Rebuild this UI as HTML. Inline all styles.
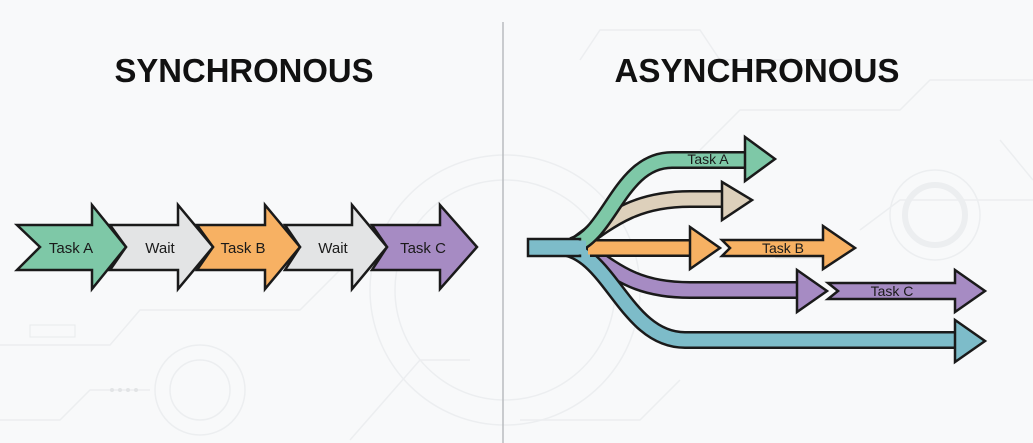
<!DOCTYPE html>
<html><head><meta charset="utf-8"><style>
html,body{margin:0;padding:0;background:#f8f9fa;}
svg{display:block}
text{font-family:"Liberation Sans",sans-serif;}
</style></head><body>
<svg width="1033" height="443" viewBox="0 0 1033 443" xmlns="http://www.w3.org/2000/svg">
<rect width="1033" height="443" fill="#f8f9fa"/>
<g fill="none" stroke="#eceef0" stroke-width="1.5">
<circle cx="505" cy="290" r="135"/>
<circle cx="505" cy="290" r="110"/>
<circle cx="935" cy="215" r="45"/>
<circle cx="935" cy="215" r="30" stroke-width="6"/>
<circle cx="200" cy="390" r="45"/>
<circle cx="200" cy="390" r="30"/>
<path d="M0 345 H110 L140 310 H300 L360 250"/>
<path d="M0 420 H60 L90 390 H150"/>
<path d="M350 440 L420 360 H470"/>
<path d="M580 60 L600 30 H700 L720 60 H820"/>
<path d="M700 150 L740 110 H900 L930 80 H1033"/>
<path d="M860 230 L900 200 H1033"/>
<path d="M1000 140 L1033 180"/>
<path d="M520 420 H640 L680 380"/>
</g>
<g fill="#eceef0"><rect x="775" y="245" width="50" height="14"/><rect x="30" y="325" width="45" height="12" fill="none" stroke="#e8eaec"/></g>
<g fill="#e2e4e6"><circle cx="112" cy="390" r="2"/><circle cx="120" cy="390" r="2"/><circle cx="128" cy="390" r="2"/><circle cx="136" cy="390" r="2"/></g>
<line x1="503" y1="22" x2="503" y2="443" stroke="#b9bcbf" stroke-width="1.5"/>
<text x="244" y="82" font-size="33" font-weight="bold" text-anchor="middle" fill="#111" textLength="259" lengthAdjust="spacingAndGlyphs">SYNCHRONOUS</text>
<text x="757" y="82" font-size="33" font-weight="bold" text-anchor="middle" fill="#111" textLength="285" lengthAdjust="spacingAndGlyphs">ASYNCHRONOUS</text>

<g stroke="#1a1a1a" stroke-width="2.5" stroke-linejoin="miter">
<polygon points="372,225 440,225 440,205 477,247 440,289 440,270 372,270 387,247" fill="#a68bc3"/>
<polygon points="285,225 352,225 352,205 387,247 352,289 352,270 285,270 300,247" fill="#e3e4e5"/>
<polygon points="197,225 265,225 265,205 300,247 265,289 265,270 197,270 213,247" fill="#f7b163"/>
<polygon points="110,225 178,225 178,205 213,247 178,289 178,270 110,270 126,247" fill="#e3e4e5"/>
<polygon points="17,225 92,225 92,205 126,247 92,289 92,270 17,270 40,247" fill="#7ec8a7"/>
</g>
<g font-size="15" fill="#1a1a1a" text-anchor="middle">
<text x="71" y="253">Task A</text>
<text x="160" y="253">Wait</text>
<text x="243" y="253">Task B</text>
<text x="333" y="253">Wait</text>
<text x="423" y="253">Task C</text>
</g>

<g fill="none" stroke-linecap="butt">
<path d="M585,250 C620,275 640,290 690,290 L800,290" stroke="#1a1a1a" stroke-width="18"/>
<path d="M585,250 C620,275 640,290 690,290 L801,290" stroke="#a68bc3" stroke-width="13"/>
<path d="M560,247 C610,250 625,340 685,340 L958,340" stroke="#1a1a1a" stroke-width="18"/>
<path d="M560,247 C610,250 625,340 685,340 L959,340" stroke="#7dbcc9" stroke-width="13"/>
<path d="M590,248 L692,248" stroke="#1a1a1a" stroke-width="18"/>
<path d="M588,248 L693,248" stroke="#f7b163" stroke-width="13"/>
<path d="M575,246 C615,215 640,199 690,199 L725,199" stroke="#1a1a1a" stroke-width="18"/>
<path d="M575,246 C615,215 640,199 690,199 L726,199" stroke="#ddd0bb" stroke-width="13"/>
<path d="M572,246 C610,235 620,160 672,160 L748,160" stroke="#1a1a1a" stroke-width="18"/>
<path d="M572,246 C610,235 620,160 672,160 L749,160" stroke="#7ec8a7" stroke-width="13"/>
</g>
<g stroke="#1a1a1a" stroke-width="2.5" stroke-linejoin="miter">
<polygon points="745,137 775,159 745,181" fill="#7ec8a7"/>
<polygon points="722,182 752,200 722,220" fill="#ddd0bb"/>
<polygon points="690,227 720,248 690,269" fill="#f7b163"/>
<polygon points="797,270 827,291 797,312" fill="#a68bc3"/>
<polygon points="955,320 985,341 955,362" fill="#7dbcc9"/>
<polygon points="722,240 823,240 823,226 855,248 823,269 823,256 722,256 730,248" fill="#f7b163"/>
<polygon points="828,283 955,283 955,270 985,291 955,312 955,299 828,299 838,291" fill="#a68bc3"/>
<rect x="528" y="239" width="52" height="17" fill="#7dbcc9"/>
</g>
<rect x="578" y="240.5" width="8" height="14" fill="#7dbcc9"/>
<g font-size="14" fill="#1a1a1a" text-anchor="middle">
<text x="708" y="164">Task A</text>
<text x="783" y="253">Task B</text>
<text x="892" y="296">Task C</text>
</g>
</svg>
</body></html>
